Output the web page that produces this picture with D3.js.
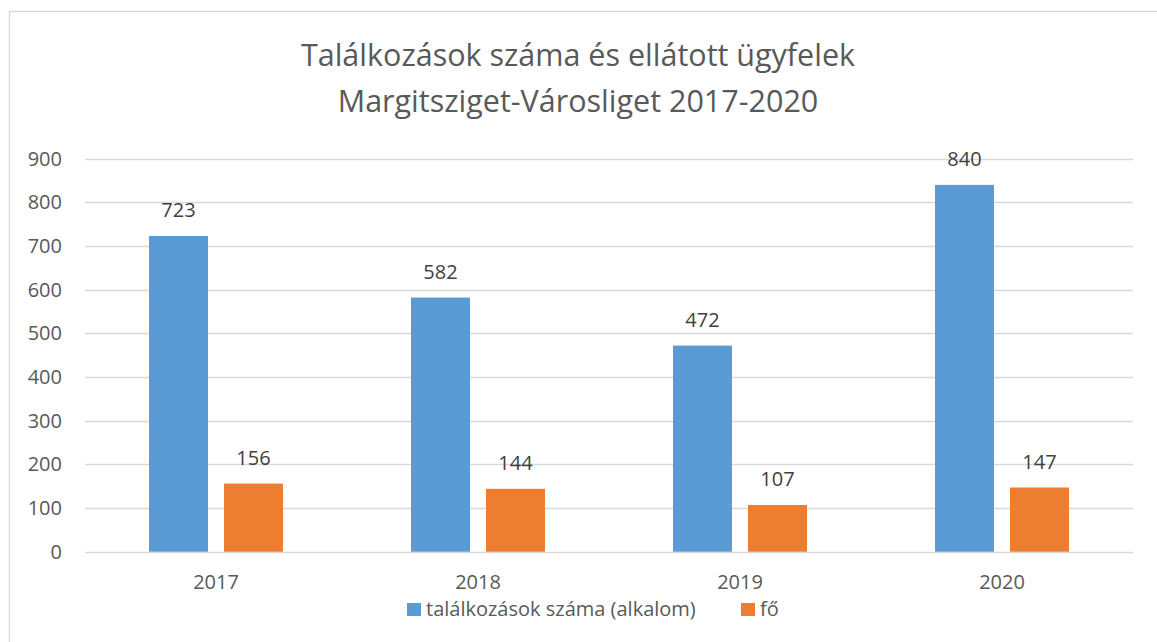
<!DOCTYPE html>
<html>
<head>
<meta charset="utf-8">
<script src="https://cdn.jsdelivr.net/npm/d3@7"></script>
<style>
  body { margin: 0; background: #fff; }
  text { font-family: "Open Sans", "Noto Sans", sans-serif; }
</style>
</head>
<body>
<svg id="chart" width="1157" height="642"></svg>
<script>
// chart data
var years = ["2017", "2018", "2019", "2020"];
var series_names = ["találkozások száma (alkalom)", "fő"];
var meetings = [723, 582, 472, 840];
var people = [156, 144, 107, 147];
var y_ticks = [0, 100, 200, 300, 400, 500, 600, 700, 800, 900];

var series_colors = ["#5B9BD5", "#ED7D31"];
var text_color = "#595959";
var label_color = "#404040";
var grid_color = "#d9d9d9";

var svg = d3.select("#chart");

// outer chart border
svg.append("rect")
    .attr("x", 9.5).attr("y", 11.5)
    .attr("width", 1160).attr("height", 640)
    .attr("fill", "none")
    .attr("stroke", grid_color)
    .attr("stroke-width", 1.3);

// title (two lines)
var title_lines = ["Találkozások száma és ellátott ügyfelek", "Margitsziget-Városliget 2017-2020"];
svg.selectAll(".title-line")
    .data(title_lines)
    .enter()
    .append("text")
    .attr("class", "title-line")
    .attr("x", 578)
    .attr("y", function (d, i) { return 66 + i * 46; })
    .attr("text-anchor", "middle")
    .style("font-size", "30.5px")
    .style("fill", text_color)
    .text(function (d) { return d; });

// scales
var plot_left = 85, plot_right = 1133;
var y_scale = d3.scaleLinear().domain([0, 900]).range([551.7, 158.7]);
var x_scale = d3.scaleBand().domain(years).range([plot_left, plot_right]);
var bar_width = 59, bar_gap = 16;

// gridlines
svg.selectAll(".grid")
    .data(y_ticks)
    .enter()
    .append("line")
    .attr("class", "grid")
    .attr("x1", plot_left).attr("x2", plot_right)
    .attr("y1", function (d) { return Math.round(y_scale(d)) + 0.5; })
    .attr("y2", function (d) { return Math.round(y_scale(d)) + 0.5; })
    .attr("stroke", grid_color)
    .attr("stroke-width", 1.3);

// y tick labels
svg.selectAll(".y-label")
    .data(y_ticks)
    .enter()
    .append("text")
    .attr("class", "y-label")
    .attr("x", 62)
    .attr("y", function (d) { return y_scale(d) + 7; })
    .attr("text-anchor", "end")
    .style("font-size", "20px")
    .style("fill", text_color)
    .text(function (d) { return d; });

// x category labels
svg.selectAll(".x-label")
    .data(years)
    .enter()
    .append("text")
    .attr("class", "x-label")
    .attr("x", function (d) { return x_scale(d) + x_scale.bandwidth() / 2; })
    .attr("y", 589)
    .attr("text-anchor", "middle")
    .style("font-size", "20px")
    .style("fill", text_color)
    .text(function (d) { return d; });

// bars for both series
var all_series = [meetings, people];
all_series.forEach(function (values, s) {
    var offset = s === 0 ? -(bar_width + bar_gap / 2) : bar_gap / 2;
    var group = svg.append("g").attr("class", "series-" + s);

    group.selectAll("rect")
        .data(values)
        .enter()
        .append("rect")
        .attr("x", function (d, i) { return x_scale(years[i]) + x_scale.bandwidth() / 2 + offset; })
        .attr("y", function (d) { return y_scale(d); })
        .attr("width", bar_width)
        .attr("height", function (d) { return y_scale(0) - y_scale(d); })
        .attr("fill", series_colors[s]);

    // value labels above bars
    group.selectAll("text")
        .data(values)
        .enter()
        .append("text")
        .attr("x", function (d, i) { return x_scale(years[i]) + x_scale.bandwidth() / 2 + offset + bar_width / 2; })
        .attr("y", function (d) { return y_scale(d) - 19; })
        .attr("text-anchor", "middle")
        .style("font-size", "20px")
        .style("fill", label_color)
        .text(function (d) { return d; });
});

// legend
var legend_items = [
    { name: series_names[0], color: series_colors[0], x: 407 },
    { name: series_names[1], color: series_colors[1], x: 741 }
];
var legend = svg.selectAll(".legend")
    .data(legend_items)
    .enter()
    .append("g")
    .attr("class", "legend")
    .attr("transform", function (d) { return "translate(" + d.x + ",603)"; });

legend.append("rect")
    .attr("width", 14).attr("height", 13)
    .attr("fill", function (d) { return d.color; });

legend.append("text")
    .attr("x", 19)
    .attr("y", 13)
    .style("font-size", "20px")
    .style("fill", text_color)
    .text(function (d) { return d.name; });
</script>
</body>
</html>
